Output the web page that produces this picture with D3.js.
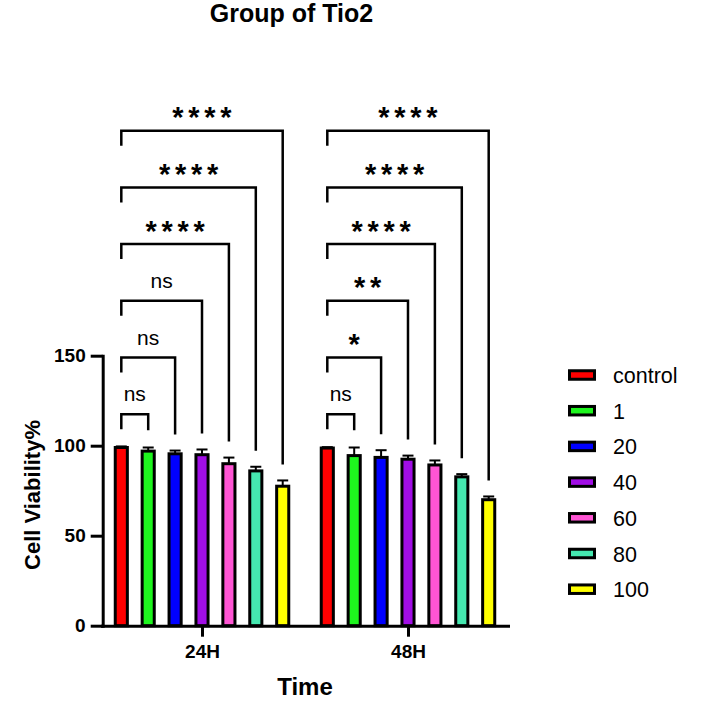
<!DOCTYPE html>
<html>
<head>
<meta charset="utf-8">
<script src="https://cdn.jsdelivr.net/npm/d3@7"></script>
<style>
  body { margin: 0; background: #fff; }
  svg { display: block; font-family: Arial, "Liberation Sans", Helvetica, sans-serif; }
</style>
</head>
<body>
<svg id="chart"></svg>
<script>
// data
var groups = ["24H", "48H"];
var doses = ["control", "1", "20", "40", "60", "80", "100"];
var colors = ["#ff0000", "#1ef51e", "#0000ff", "#a10ee6", "#ff55d4", "#45e8b0", "#ffff00"];
var means24 = [99, 97, 95.5, 95, 90, 86, 77.5];
var errs24 = [0.6, 2, 1.8, 2.9, 3.4, 2.3, 3.2];
var means48 = [98.7, 94.5, 93.5, 92.5, 89.3, 82.7, 70];
var errs48 = [0.5, 4.5, 4, 2, 2.5, 1.5, 1.8];
var sig24 = ["ns", "ns", "ns", "****", "****", "****"];
var sig48 = ["ns", "*", "**", "****", "****", "****"];
var yTicks = [0, 50, 100, 150];

var width = 701, height = 703;
var svg = d3.select("#chart").attr("width", width).attr("height", height);

var y = d3.scaleLinear().domain([0, 150]).range([625.7, 355.7]);
var x0 = d3.scalePoint().domain(groups).range([102, 508]).padding(0.4855);
var x1 = d3.scaleBand().domain(doses).range([-94.15, 94.15]).paddingInner(0.55).paddingOuter(0.275);
var bw = x1.bandwidth();

var series = [
  { group: "24H", means: means24, errs: errs24, sig: sig24 },
  { group: "48H", means: means48, errs: errs48, sig: sig48 }
];

function cx(g, d) { return x0(g) + x1(d) + bw / 2; }

// measure the ink of the asterisk so the stars sit like Prism's
var ctx = document.createElement("canvas").getContext("2d");
ctx.font = "bold 100px Arial, 'Liberation Sans', Helvetica, sans-serif";
var m = ctx.measureText("*");
var inkH = m.actualBoundingBoxAscent + m.actualBoundingBoxDescent;
var starSize = 100 * 11 / inkH;
var starLift = -m.actualBoundingBoxDescent * starSize / 100;
var starGap = 16 - m.width * starSize / 100;

// title
svg.append("text")
  .attr("x", 291.5).attr("y", 22)
  .attr("text-anchor", "middle")
  .style("font-size", "25px").style("font-weight", "bold")
  .text("Group of Tio2");

// bars + error bars
series.forEach(function (s) {
  var g = svg.append("g");
  var rows = doses.map(function (d, i) { return { dose: d, m: s.means[i], e: s.errs[i], c: colors[i] }; });

  g.selectAll("line.eb").data(rows).enter().append("line")
    .attr("x1", function (d) { return cx(s.group, d.dose); })
    .attr("x2", function (d) { return cx(s.group, d.dose); })
    .attr("y1", function (d) { return y(d.m); })
    .attr("y2", function (d) { return y(d.m + d.e); })
    .attr("stroke", "#000").attr("stroke-width", 2);
  g.selectAll("line.cap").data(rows).enter().append("line")
    .attr("x1", function (d) { return cx(s.group, d.dose) - 5.5; })
    .attr("x2", function (d) { return cx(s.group, d.dose) + 5.5; })
    .attr("y1", function (d) { return y(d.m + d.e); })
    .attr("y2", function (d) { return y(d.m + d.e); })
    .attr("stroke", "#000").attr("stroke-width", 2);

  g.selectAll("rect").data(rows).enter().append("rect")
    .attr("x", function (d) { return x0(s.group) + x1(d.dose); })
    .attr("y", function (d) { return y(d.m); })
    .attr("width", bw)
    .attr("height", function (d) { return y(0) - y(d.m); })
    .attr("fill", function (d) { return d.c; })
    .attr("stroke", "#000").attr("stroke-width", 3);

  // significance brackets: control vs each dose
  var xl = cx(s.group, doses[0]);
  s.sig.forEach(function (lab, i) {
    var lvl = y(117.5 + i * 31.5);
    var xr = cx(s.group, doses[i + 1]);
    var yr = y(s.means[i + 1] + s.errs[i + 1]) - 16;
    if (i === 0) yr = lvl + 16;
    g.append("path")
      .attr("d", "M" + xl + "," + (lvl + 15) + "V" + lvl + "H" + xr + "V" + yr)
      .attr("fill", "none").attr("stroke", "#000").attr("stroke-width", 2.5);
    var t = g.append("text")
      .attr("x", (xl + xr) / 2)
      .attr("text-anchor", "middle")
      .text(lab);
    if (lab === "ns") {
      t.attr("y", lvl - 13).style("font-size", "21px");
    } else {
      t.attr("y", lvl - 12.5 + starLift)
        .style("font-size", starSize + "px").style("font-weight", "bold")
        .style("letter-spacing", starGap + "px").attr("dx", starGap / 2);
    }
  });
});

// axes
var yAxis = svg.append("g").attr("transform", "translate(102.7,0)")
  .call(d3.axisLeft(y).tickValues(yTicks).tickSize(12).tickSizeOuter(0).tickPadding(5));
var xAxis = svg.append("g").attr("transform", "translate(0,625.7)")
  .call(d3.axisBottom(x0).tickSize(11).tickSizeOuter(0).tickPadding(8));
[yAxis, xAxis].forEach(function (a) {
  a.select(".domain").attr("stroke-width", 3).attr("stroke-linecap", "square");
  a.selectAll(".tick line").attr("stroke-width", 3);
  a.selectAll("text").style("font-size", "19px").style("font-weight", "bold")
    .style("font-family", "Arial, 'Liberation Sans', Helvetica, sans-serif").attr("fill", "#000");
});

svg.append("text")
  .attr("transform", "translate(40,495) rotate(-90)")
  .attr("text-anchor", "middle")
  .style("font-size", "22px").style("font-weight", "bold")
  .text("Cell Viability%");

svg.append("text")
  .attr("x", 305).attr("y", 695)
  .attr("text-anchor", "middle")
  .style("font-size", "24px").style("font-weight", "bold")
  .text("Time");

// legend
var leg = svg.append("g").selectAll("g").data(doses).enter().append("g")
  .attr("transform", function (d, i) { return "translate(568,375) translate(0," + (i * 35.7) + ")"; });
leg.append("rect")
  .attr("x", 1.5).attr("y", -4.25).attr("width", 25).attr("height", 8.5)
  .attr("fill", function (d, i) { return colors[i]; })
  .attr("stroke", "#000").attr("stroke-width", 3);
leg.append("text")
  .attr("x", 45).attr("y", 8)
  .style("font-size", "21.5px")
  .text(function (d) { return d; });
</script>
</body>
</html>
